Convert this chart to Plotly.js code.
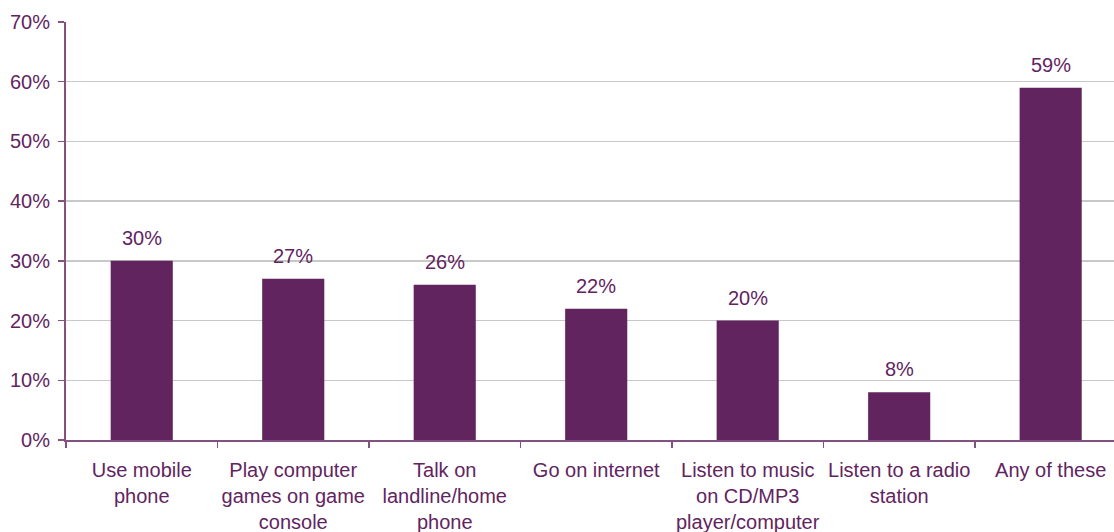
<!DOCTYPE html>
<html>
<head>
<meta charset="utf-8">
<script src="https://cdn.plot.ly/plotly-3.0.1.min.js"></script>
<style>html,body{margin:0;padding:0;background:#fff;}#chart{width:1114px;height:532px;}</style>
</head>
<body>
<div id="chart"></div>
<script>
const categories = ["Use mobile<br>phone", "Play computer<br>games on game<br>console", "Talk on<br>landline/home<br>phone", "Go on internet", "Listen to music<br>on CD/MP3<br>player/computer", "Listen to a radio<br>station", "Any of these"];
const values = [30, 27, 26, 22, 20, 8, 59];
const valueLabels = ["30%", "27%", "26%", "22%", "20%", "8%", "59%"];
const yTickVals = [0, 10, 20, 30, 40, 50, 60, 70];
const yTickText = ["0%", "10%", "20%", "30%", "40%", "50%", "60%", "70%"];

const textColor = "#62245F";
const barColor = "#62245F";
const axisColor = "#85517F";
const font = {family: "Liberation Sans, Arial, sans-serif", size: 20, color: textColor};

const trace = {
  type: "bar",
  x: categories,
  y: values,
  marker: {color: barColor},
  width: 0.41,
  hoverinfo: "none"
};

const annotations = categories.map((c, i) => ({
  x: c, y: values[i], text: valueLabels[i],
  xref: "x", yref: "y", showarrow: false,
  yanchor: "bottom", yshift: 10,
  font: font
}));

const layout = {
  width: 1114, height: 532,
  margin: {l: 66, r: 0, t: 22, b: 92},
  paper_bgcolor: "#fff", plot_bgcolor: "#fff",
  font: font,
  showlegend: false,
  bargap: 0.59,
  xaxis: {
    type: "category",
    range: [-0.5, 6.418],
    tickson: "boundaries",
    ticks: "outside", ticklen: 6, tickwidth: 1.5, tickcolor: axisColor,
    showline: true, linecolor: axisColor, linewidth: 2,
    showgrid: false, zeroline: false,
    tickfont: font,
    ticklabelstandoff: 11,
    tickangle: 0,
    fixedrange: true
  },
  yaxis: {
    range: [0, 70],
    tickvals: yTickVals, ticktext: yTickText,
    ticks: "outside", ticklen: 6, tickwidth: 1.5, tickcolor: axisColor,
    showline: true, linecolor: axisColor, linewidth: 2,
    showgrid: true, gridcolor: "#C8C8C8", gridwidth: 1.5,
    zeroline: false,
    tickfont: font,
    ticklabelstandoff: 4,
    fixedrange: true
  },
  annotations: annotations
};

Plotly.newPlot("chart", [trace], layout, {displayModeBar: false, staticPlot: true});
</script>
</body>
</html>
